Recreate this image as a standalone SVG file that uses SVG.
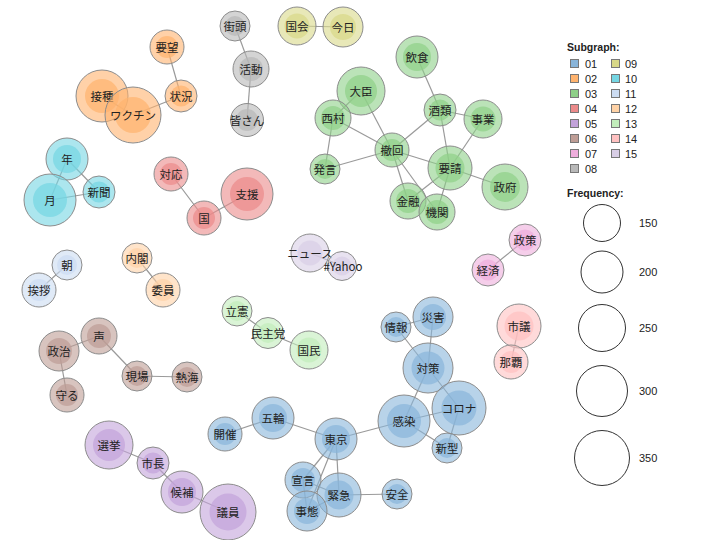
<svg xmlns="http://www.w3.org/2000/svg" width="720" height="540" viewBox="0 0 720 540">
<style>
.bg{fill:#ffffff}
.e line{stroke:#9a9a9a;stroke-width:1.2}
.o{stroke:#8c8c8c;stroke-width:1;fill-opacity:0.6}
.i{fill-opacity:0.7;stroke:none}
.t{font-family:"Noto Sans CJK JP","Noto Sans",sans-serif;font-size:11.5px;fill:#222;text-anchor:middle;dominant-baseline:central}
.c01{fill:#89B5DA}.c02{fill:#FFB36E}.c03{fill:#8ED088}.c04{fill:#EB8A8A}.c05{fill:#C3A3DA}
.c06{fill:#BE9D95}.c07{fill:#EFADDC}.c08{fill:#B8B8B8}.c09{fill:#D8D888}.c10{fill:#75D6E3}
.c11{fill:#CCDCF2}.c12{fill:#FFD2A6}.c13{fill:#C2EDBB}.c14{fill:#FFC1C1}.c15{fill:#D8CEE6}
.lg{font-family:"Liberation Sans",Arial,sans-serif;font-size:11px;fill:#222}
.lh{font-family:"Liberation Sans",Arial,sans-serif;font-size:10.5px;font-weight:bold;fill:#222}
.sq{stroke:#777;stroke-width:1}
.fc{fill:none;stroke:#333;stroke-width:1}
</style>
<rect class="bg" x="0" y="0" width="720" height="540"/>
<g id="edges" class="e">
<line x1="167" y1="47" x2="181" y2="96"/>
<line x1="181" y1="96" x2="133" y2="115"/>
<line x1="102" y1="96" x2="133" y2="115"/>
<line x1="235" y1="26" x2="251" y2="69"/>
<line x1="251" y1="69" x2="247" y2="120"/>
<line x1="67" y1="159" x2="50" y2="200"/>
<line x1="67" y1="159" x2="99" y2="192"/>
<line x1="50" y1="200" x2="99" y2="192"/>
<line x1="171" y1="174" x2="204" y2="218"/>
<line x1="204" y1="218" x2="247" y2="194"/>
<line x1="297" y1="26" x2="343" y2="27"/>
<line x1="417" y1="57" x2="440" y2="110"/>
<line x1="361" y1="91" x2="392" y2="150"/>
<line x1="361" y1="91" x2="333" y2="118"/>
<line x1="333" y1="118" x2="392" y2="150"/>
<line x1="333" y1="118" x2="325" y2="169"/>
<line x1="392" y1="150" x2="325" y2="169"/>
<line x1="392" y1="150" x2="440" y2="110"/>
<line x1="392" y1="150" x2="450" y2="168"/>
<line x1="392" y1="150" x2="408" y2="201"/>
<line x1="392" y1="150" x2="437" y2="212"/>
<line x1="440" y1="110" x2="483" y2="119"/>
<line x1="440" y1="110" x2="450" y2="168"/>
<line x1="483" y1="119" x2="450" y2="168"/>
<line x1="450" y1="168" x2="505" y2="187"/>
<line x1="450" y1="168" x2="408" y2="201"/>
<line x1="450" y1="168" x2="437" y2="212"/>
<line x1="67" y1="265" x2="39" y2="290"/>
<line x1="137" y1="258" x2="163" y2="290"/>
<line x1="237" y1="311" x2="268" y2="333"/>
<line x1="268" y1="333" x2="309" y2="350"/>
<line x1="99" y1="336" x2="59" y2="351"/>
<line x1="59" y1="351" x2="67" y2="395"/>
<line x1="99" y1="336" x2="137" y2="376"/>
<line x1="137" y1="376" x2="187" y2="377"/>
<line x1="310" y1="253" x2="342" y2="266"/>
<line x1="525" y1="240" x2="488" y2="270"/>
<line x1="519" y1="326" x2="511" y2="362"/>
<line x1="396" y1="327" x2="433" y2="317"/>
<line x1="396" y1="327" x2="428" y2="368"/>
<line x1="433" y1="317" x2="428" y2="368"/>
<line x1="428" y1="368" x2="404" y2="421"/>
<line x1="428" y1="368" x2="459" y2="408"/>
<line x1="404" y1="421" x2="459" y2="408"/>
<line x1="404" y1="421" x2="447" y2="448"/>
<line x1="459" y1="408" x2="447" y2="448"/>
<line x1="336" y1="439" x2="404" y2="421"/>
<line x1="225" y1="434" x2="273" y2="418"/>
<line x1="273" y1="418" x2="336" y2="439"/>
<line x1="336" y1="439" x2="303" y2="480"/>
<line x1="336" y1="439" x2="307" y2="511"/>
<line x1="336" y1="439" x2="339" y2="495"/>
<line x1="303" y1="480" x2="339" y2="495"/>
<line x1="303" y1="480" x2="307" y2="511"/>
<line x1="339" y1="495" x2="307" y2="511"/>
<line x1="339" y1="495" x2="397" y2="494"/>
<line x1="109" y1="445" x2="153" y2="463"/>
<line x1="153" y1="463" x2="182" y2="492"/>
<line x1="182" y1="492" x2="228" y2="512"/>
</g>
<g id="nodes">
<g id="n-youbou"><circle class="o c02" cx="167" cy="47" r="17"/><circle class="i c02" cx="167" cy="47" r="11"/><text class="t" x="167" y="47">要望</text></g>
<g id="n-joukyou"><circle class="o c02" cx="181" cy="96" r="16"/><circle class="i c02" cx="181" cy="96" r="10.5"/><text class="t" x="181" y="96">状況</text></g>
<g id="n-sesshu"><circle class="o c02" cx="102" cy="96" r="26"/><circle class="i c02" cx="102" cy="96" r="17"/><text class="t" x="102" y="96">接種</text></g>
<g id="n-vaccine"><circle class="o c02" cx="133" cy="115" r="28"/><circle class="i c02" cx="133" cy="115" r="18"/><text class="t" x="133" y="115">ワクチン</text></g>
<g id="n-gaitou"><circle class="o c08" cx="235" cy="26" r="15"/><circle class="i c08" cx="235" cy="26" r="10"/><text class="t" x="235" y="26">街頭</text></g>
<g id="n-katsudou"><circle class="o c08" cx="251" cy="69" r="18"/><circle class="i c08" cx="251" cy="69" r="12"/><text class="t" x="251" y="69">活動</text></g>
<g id="n-minasan"><circle class="o c08" cx="247" cy="120" r="16.5"/><circle class="i c08" cx="247" cy="120" r="11"/><text class="t" x="247" y="120">皆さん</text></g>
<g id="n-toshi"><circle class="o c10" cx="67" cy="159" r="21"/><circle class="i c10" cx="67" cy="159" r="14"/><text class="t" x="67" y="159">年</text></g>
<g id="n-tsuki"><circle class="o c10" cx="50" cy="200" r="26"/><circle class="i c10" cx="50" cy="200" r="17"/><text class="t" x="50" y="200">月</text></g>
<g id="n-shinbun"><circle class="o c10" cx="99" cy="192" r="16"/><circle class="i c10" cx="99" cy="192" r="10.5"/><text class="t" x="99" y="192">新聞</text></g>
<g id="n-taiou"><circle class="o c04" cx="171" cy="174" r="17"/><circle class="i c04" cx="171" cy="174" r="11"/><text class="t" x="171" y="174">対応</text></g>
<g id="n-kuni"><circle class="o c04" cx="204" cy="218" r="17"/><circle class="i c04" cx="204" cy="218" r="11"/><text class="t" x="204" y="218">国</text></g>
<g id="n-shien"><circle class="o c04" cx="247" cy="194" r="26"/><circle class="i c04" cx="247" cy="194" r="17"/><text class="t" x="247" y="194">支援</text></g>
<g id="n-kokkai"><circle class="o c09" cx="297" cy="26" r="19"/><circle class="i c09" cx="297" cy="26" r="12.5"/><text class="t" x="297" y="26">国会</text></g>
<g id="n-kyou"><circle class="o c09" cx="343" cy="27" r="20"/><circle class="i c09" cx="343" cy="27" r="13"/><text class="t" x="343" y="27">今日</text></g>
<g id="n-inshoku"><circle class="o c03" cx="417" cy="57" r="21"/><circle class="i c03" cx="417" cy="57" r="14"/><text class="t" x="417" y="57">飲食</text></g>
<g id="n-daijin"><circle class="o c03" cx="361" cy="91" r="24"/><circle class="i c03" cx="361" cy="91" r="16"/><text class="t" x="361" y="91">大臣</text></g>
<g id="n-nishimura"><circle class="o c03" cx="333" cy="118" r="18"/><circle class="i c03" cx="333" cy="118" r="12"/><text class="t" x="333" y="118">西村</text></g>
<g id="n-sakerui"><circle class="o c03" cx="440" cy="110" r="16"/><circle class="i c03" cx="440" cy="110" r="10.5"/><text class="t" x="440" y="110">酒類</text></g>
<g id="n-jigyou"><circle class="o c03" cx="483" cy="119" r="19"/><circle class="i c03" cx="483" cy="119" r="12.5"/><text class="t" x="483" y="119">事業</text></g>
<g id="n-tekkai"><circle class="o c03" cx="392" cy="150" r="17"/><circle class="i c03" cx="392" cy="150" r="11"/><text class="t" x="392" y="150">撤回</text></g>
<g id="n-yousei"><circle class="o c03" cx="450" cy="168" r="22"/><circle class="i c03" cx="450" cy="168" r="14.5"/><text class="t" x="450" y="168">要請</text></g>
<g id="n-hatsugen"><circle class="o c03" cx="325" cy="169" r="15"/><circle class="i c03" cx="325" cy="169" r="10"/><text class="t" x="325" y="169">発言</text></g>
<g id="n-seifu"><circle class="o c03" cx="505" cy="187" r="23"/><circle class="i c03" cx="505" cy="187" r="15"/><text class="t" x="505" y="187">政府</text></g>
<g id="n-kinyuu"><circle class="o c03" cx="408" cy="201" r="18"/><circle class="i c03" cx="408" cy="201" r="12"/><text class="t" x="408" y="201">金融</text></g>
<g id="n-kikan"><circle class="o c03" cx="437" cy="212" r="18"/><circle class="i c03" cx="437" cy="212" r="12"/><text class="t" x="437" y="212">機関</text></g>
<g id="n-asa"><circle class="o c11" cx="67" cy="265" r="15"/><circle class="i c11" cx="67" cy="265" r="10"/><text class="t" x="67" y="265">朝</text></g>
<g id="n-aisatsu"><circle class="o c11" cx="39" cy="290" r="17"/><circle class="i c11" cx="39" cy="290" r="11"/><text class="t" x="39" y="290">挨拶</text></g>
<g id="n-naikaku"><circle class="o c12" cx="137" cy="258" r="15"/><circle class="i c12" cx="137" cy="258" r="10"/><text class="t" x="137" y="258">内閣</text></g>
<g id="n-iin"><circle class="o c12" cx="163" cy="290" r="17"/><circle class="i c12" cx="163" cy="290" r="11"/><text class="t" x="163" y="290">委員</text></g>
<g id="n-rikken"><circle class="o c13" cx="237" cy="311" r="15"/><circle class="i c13" cx="237" cy="311" r="10"/><text class="t" x="237" y="311">立憲</text></g>
<g id="n-minshutou"><circle class="o c13" cx="268" cy="333" r="15.5"/><circle class="i c13" cx="268" cy="333" r="10"/><text class="t" x="268" y="333">民主党</text></g>
<g id="n-kokumin"><circle class="o c13" cx="309" cy="350" r="19"/><circle class="i c13" cx="309" cy="350" r="12.5"/><text class="t" x="309" y="350">国民</text></g>
<g id="n-koe"><circle class="o c06" cx="99" cy="336" r="18"/><circle class="i c06" cx="99" cy="336" r="12"/><text class="t" x="99" y="336">声</text></g>
<g id="n-seiji"><circle class="o c06" cx="59" cy="351" r="20"/><circle class="i c06" cx="59" cy="351" r="13"/><text class="t" x="59" y="351">政治</text></g>
<g id="n-mamoru"><circle class="o c06" cx="67" cy="395" r="17"/><circle class="i c06" cx="67" cy="395" r="11"/><text class="t" x="67" y="395">守る</text></g>
<g id="n-genba"><circle class="o c06" cx="137" cy="376" r="15"/><circle class="i c06" cx="137" cy="376" r="10"/><text class="t" x="137" y="376">現場</text></g>
<g id="n-atami"><circle class="o c06" cx="187" cy="377" r="15"/><circle class="i c06" cx="187" cy="377" r="10"/><text class="t" x="187" y="377">熱海</text></g>
<g id="n-news"><circle class="o c15" cx="310" cy="253" r="19"/><circle class="i c15" cx="310" cy="253" r="12.5"/><text class="t" x="310" y="253">ニュース</text></g>
<g id="n-yahoo"><circle class="o c15" cx="342" cy="266" r="14.5"/><circle class="i c15" cx="342" cy="266" r="9.5"/><text class="t" x="343" y="266">#Yahoo</text></g>
<g id="n-seisaku"><circle class="o c07" cx="525" cy="240" r="16"/><circle class="i c07" cx="525" cy="240" r="10.5"/><text class="t" x="525" y="240">政策</text></g>
<g id="n-keizai"><circle class="o c07" cx="488" cy="270" r="16"/><circle class="i c07" cx="488" cy="270" r="10.5"/><text class="t" x="488" y="270">経済</text></g>
<g id="n-shigi"><circle class="o c14" cx="519" cy="326" r="22"/><circle class="i c14" cx="519" cy="326" r="14.5"/><text class="t" x="519" y="326">市議</text></g>
<g id="n-naha"><circle class="o c14" cx="511" cy="362" r="17"/><circle class="i c14" cx="511" cy="362" r="11"/><text class="t" x="511" y="362">那覇</text></g>
<g id="n-jouhou"><circle class="o c01" cx="396" cy="327" r="15"/><circle class="i c01" cx="396" cy="327" r="10"/><text class="t" x="396" y="327">情報</text></g>
<g id="n-saigai"><circle class="o c01" cx="433" cy="317" r="20"/><circle class="i c01" cx="433" cy="317" r="13"/><text class="t" x="433" y="317">災害</text></g>
<g id="n-taisaku"><circle class="o c01" cx="428" cy="368" r="25"/><circle class="i c01" cx="428" cy="368" r="16.5"/><text class="t" x="428" y="368">対策</text></g>
<g id="n-kansen"><circle class="o c01" cx="404" cy="421" r="26"/><circle class="i c01" cx="404" cy="421" r="17"/><text class="t" x="404" y="421">感染</text></g>
<g id="n-corona"><circle class="o c01" cx="459" cy="408" r="27"/><circle class="i c01" cx="459" cy="408" r="17.5"/><text class="t" x="459" y="408">コロナ</text></g>
<g id="n-shingata"><circle class="o c01" cx="447" cy="448" r="15"/><circle class="i c01" cx="447" cy="448" r="10"/><text class="t" x="447" y="448">新型</text></g>
<g id="n-tokyo"><circle class="o c01" cx="336" cy="439" r="21"/><circle class="i c01" cx="336" cy="439" r="14"/><text class="t" x="336" y="439">東京</text></g>
<g id="n-gorin"><circle class="o c01" cx="273" cy="418" r="21"/><circle class="i c01" cx="273" cy="418" r="14"/><text class="t" x="273" y="418">五輪</text></g>
<g id="n-kaisai"><circle class="o c01" cx="225" cy="434" r="17"/><circle class="i c01" cx="225" cy="434" r="11"/><text class="t" x="225" y="434">開催</text></g>
<g id="n-sengen"><circle class="o c01" cx="303" cy="480" r="18"/><circle class="i c01" cx="303" cy="480" r="12"/><text class="t" x="303" y="480">宣言</text></g>
<g id="n-kinkyuu"><circle class="o c01" cx="339" cy="495" r="22"/><circle class="i c01" cx="339" cy="495" r="14.5"/><text class="t" x="339" y="495">緊急</text></g>
<g id="n-anzen"><circle class="o c01" cx="397" cy="494" r="15"/><circle class="i c01" cx="397" cy="494" r="10"/><text class="t" x="397" y="494">安全</text></g>
<g id="n-jitai"><circle class="o c01" cx="307" cy="511" r="20"/><circle class="i c01" cx="307" cy="511" r="13"/><text class="t" x="307" y="511">事態</text></g>
<g id="n-senkyo"><circle class="o c05" cx="109" cy="445" r="24"/><circle class="i c05" cx="109" cy="445" r="16"/><text class="t" x="109" y="445">選挙</text></g>
<g id="n-shichou"><circle class="o c05" cx="153" cy="463" r="16"/><circle class="i c05" cx="153" cy="463" r="10.5"/><text class="t" x="153" y="463">市長</text></g>
<g id="n-kouho"><circle class="o c05" cx="182" cy="492" r="21"/><circle class="i c05" cx="182" cy="492" r="14"/><text class="t" x="182" y="492">候補</text></g>
<g id="n-giin"><circle class="o c05" cx="228" cy="512" r="28"/><circle class="i c05" cx="228" cy="512" r="18.5"/><text class="t" x="228" y="512">議員</text></g>
</g>
<g id="legend">
<text class="lh" x="567" y="51">Subgraph:</text>
<rect class="sq c01" x="570.5" y="59.5" width="8" height="8"/><text class="lg" x="585" y="67.5">01</text>
<rect class="sq c02" x="570.5" y="74.5" width="8" height="8"/><text class="lg" x="585" y="82.5">02</text>
<rect class="sq c03" x="570.5" y="89.5" width="8" height="8"/><text class="lg" x="585" y="97.5">03</text>
<rect class="sq c04" x="570.5" y="104.5" width="8" height="8"/><text class="lg" x="585" y="112.5">04</text>
<rect class="sq c05" x="570.5" y="119.5" width="8" height="8"/><text class="lg" x="585" y="127.5">05</text>
<rect class="sq c06" x="570.5" y="134.5" width="8" height="8"/><text class="lg" x="585" y="142.5">06</text>
<rect class="sq c07" x="570.5" y="149.5" width="8" height="8"/><text class="lg" x="585" y="157.5">07</text>
<rect class="sq c08" x="570.5" y="164.5" width="8" height="8"/><text class="lg" x="585" y="172.5">08</text>
<rect class="sq c09" x="611.5" y="59.5" width="8" height="8"/><text class="lg" x="625" y="67.5">09</text>
<rect class="sq c10" x="611.5" y="74.5" width="8" height="8"/><text class="lg" x="625" y="82.5">10</text>
<rect class="sq c11" x="611.5" y="89.5" width="8" height="8"/><text class="lg" x="625" y="97.5">11</text>
<rect class="sq c12" x="611.5" y="104.5" width="8" height="8"/><text class="lg" x="625" y="112.5">12</text>
<rect class="sq c13" x="611.5" y="119.5" width="8" height="8"/><text class="lg" x="625" y="127.5">13</text>
<rect class="sq c14" x="611.5" y="134.5" width="8" height="8"/><text class="lg" x="625" y="142.5">14</text>
<rect class="sq c15" x="611.5" y="149.5" width="8" height="8"/><text class="lg" x="625" y="157.5">15</text>
<text class="lh" x="567" y="197">Frequency:</text>
<circle class="fc" cx="602" cy="223" r="18.5"/><text class="lg" x="639" y="227">150</text>
<circle class="fc" cx="602" cy="272" r="21"/><text class="lg" x="639" y="276">200</text>
<circle class="fc" cx="602" cy="328" r="23.5"/><text class="lg" x="639" y="332">250</text>
<circle class="fc" cx="602" cy="391" r="25.5"/><text class="lg" x="639" y="395">300</text>
<circle class="fc" cx="602" cy="458" r="27.5"/><text class="lg" x="639" y="462">350</text>
</g>
</svg>
